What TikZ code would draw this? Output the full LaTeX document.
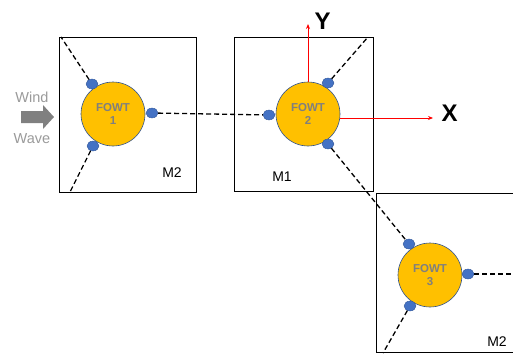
\documentclass[tikz,border=0pt]{standalone}
\usepackage{fontspec}
\setmainfont{Liberation Sans}
\usetikzlibrary{arrows.meta,shapes.geometric}
\definecolor{fowtfill}{HTML}{FFC000}
\definecolor{fowtedge}{HTML}{2F528F}
\definecolor{fairlead}{HTML}{4472C4}
\definecolor{fowttext}{HTML}{7F7F7F}
\definecolor{flowtext}{HTML}{9A9A9A}
\definecolor{flowarrow}{HTML}{808080}
\definecolor{axisred}{HTML}{FF0000}
\begin{document}
\begin{tikzpicture}[x=1pt,y=-1pt,
  cell/.style={draw=black,line width=0.9pt},
  fowt/.style={circle,fill=fowtfill,draw=fowtedge,line width=0.6pt,
    minimum size=64pt,inner sep=0pt,align=center,text=fowttext,
    font=\bfseries\fontsize{11.5}{12.5}\selectfont},
  fair/.style={ellipse,fill=fairlead,draw=fowtedge,line width=0.3pt,
    minimum width=12pt,minimum height=10pt,inner sep=0pt},
  mooring/.style={draw=black,dash pattern=on 5pt off 3pt,line width=1.3pt},
  axis/.style={draw=axisred,line width=1pt,-{Stealth[length=5pt,width=4pt]}},
  axislabel/.style={font=\bfseries\fontsize{24}{26}\selectfont,inner sep=0pt},
  modelabel/.style={font=\fontsize{14}{16}\selectfont,inner sep=0pt},
  flowlabel/.style={font=\fontsize{14.5}{16}\selectfont,text=flowtext,inner sep=0pt}]
\useasboundingbox (0,0) rectangle (513,353);

% mooring cells
\draw[cell] (59,37) rectangle (196,192);
\draw[cell] (234,37) rectangle (373,191);
\draw[cell] (513,193) -- (376,193) -- (376,352) -- (513,352);

% floating turbines
\node[fowt] (t1) at (113,114) {FOWT\\1};
\node[fowt] (t2) at (308,114) {FOWT\\2};
\node[fowt] (t3) at (430,275) {FOWT\\3};

% fairleads
\node[fair] (f1a) at (92,84) {};
\node[fair] (f1b) at (152,113) {};
\node[fair] (f1c) at (93,146) {};
\node[fair] (f2a) at (269,115) {};
\node[fair] (f2b) at (328,83) {};
\node[fair] (f2c) at (328,144) {};
\node[fair] (f3a) at (409,244) {};
\node[fair] (f3b) at (468,274) {};
\node[fair] (f3c) at (410,306) {};

% anchor points
\coordinate (a1a) at (61,37);
\coordinate (a1c) at (70,192);
\coordinate (a2b) at (368,37);
\coordinate (a3b) at (513,274);
\coordinate (a3c) at (383,353);

% mooring lines
\draw[mooring] (f1a) -- (a1a);
\draw[mooring] (f1c) -- (a1c);
\draw[mooring] (f1b) -- (f2a);
\draw[mooring] (f2b) -- (a2b);
\draw[mooring] (f2c) -- (f3a);
\draw[mooring] (f3b) -- (a3b);
\draw[mooring] (f3c) -- (a3c);

% global axes
\coordinate (yend) at (308,24);
\coordinate (xend) at (433,118);
\draw[axis] (t2.north) -- (yend);
\draw[axis] (340,118) -- (xend);
\node[axislabel] (ylab) at (322.5,21) {Y};
\node[axislabel] (xlab) at (449.5,113) {X};

% cell labels
\node[modelabel] (m2a) at (172,173) {M2};
\node[modelabel] (m1) at (282,177) {M1};
\node[modelabel] (m2b) at (497,342) {M2};

% incoming wind and waves
\fill[flowarrow] (21,111) -- (43,111) -- (43,105) -- (54,117)
  -- (43,129) -- (43,123) -- (21,123) -- cycle;
\node[flowlabel] (wind) at (32,97) {Wind};
\node[flowlabel] (wave) at (32,139) {Wave};
\end{tikzpicture}
\end{document}
